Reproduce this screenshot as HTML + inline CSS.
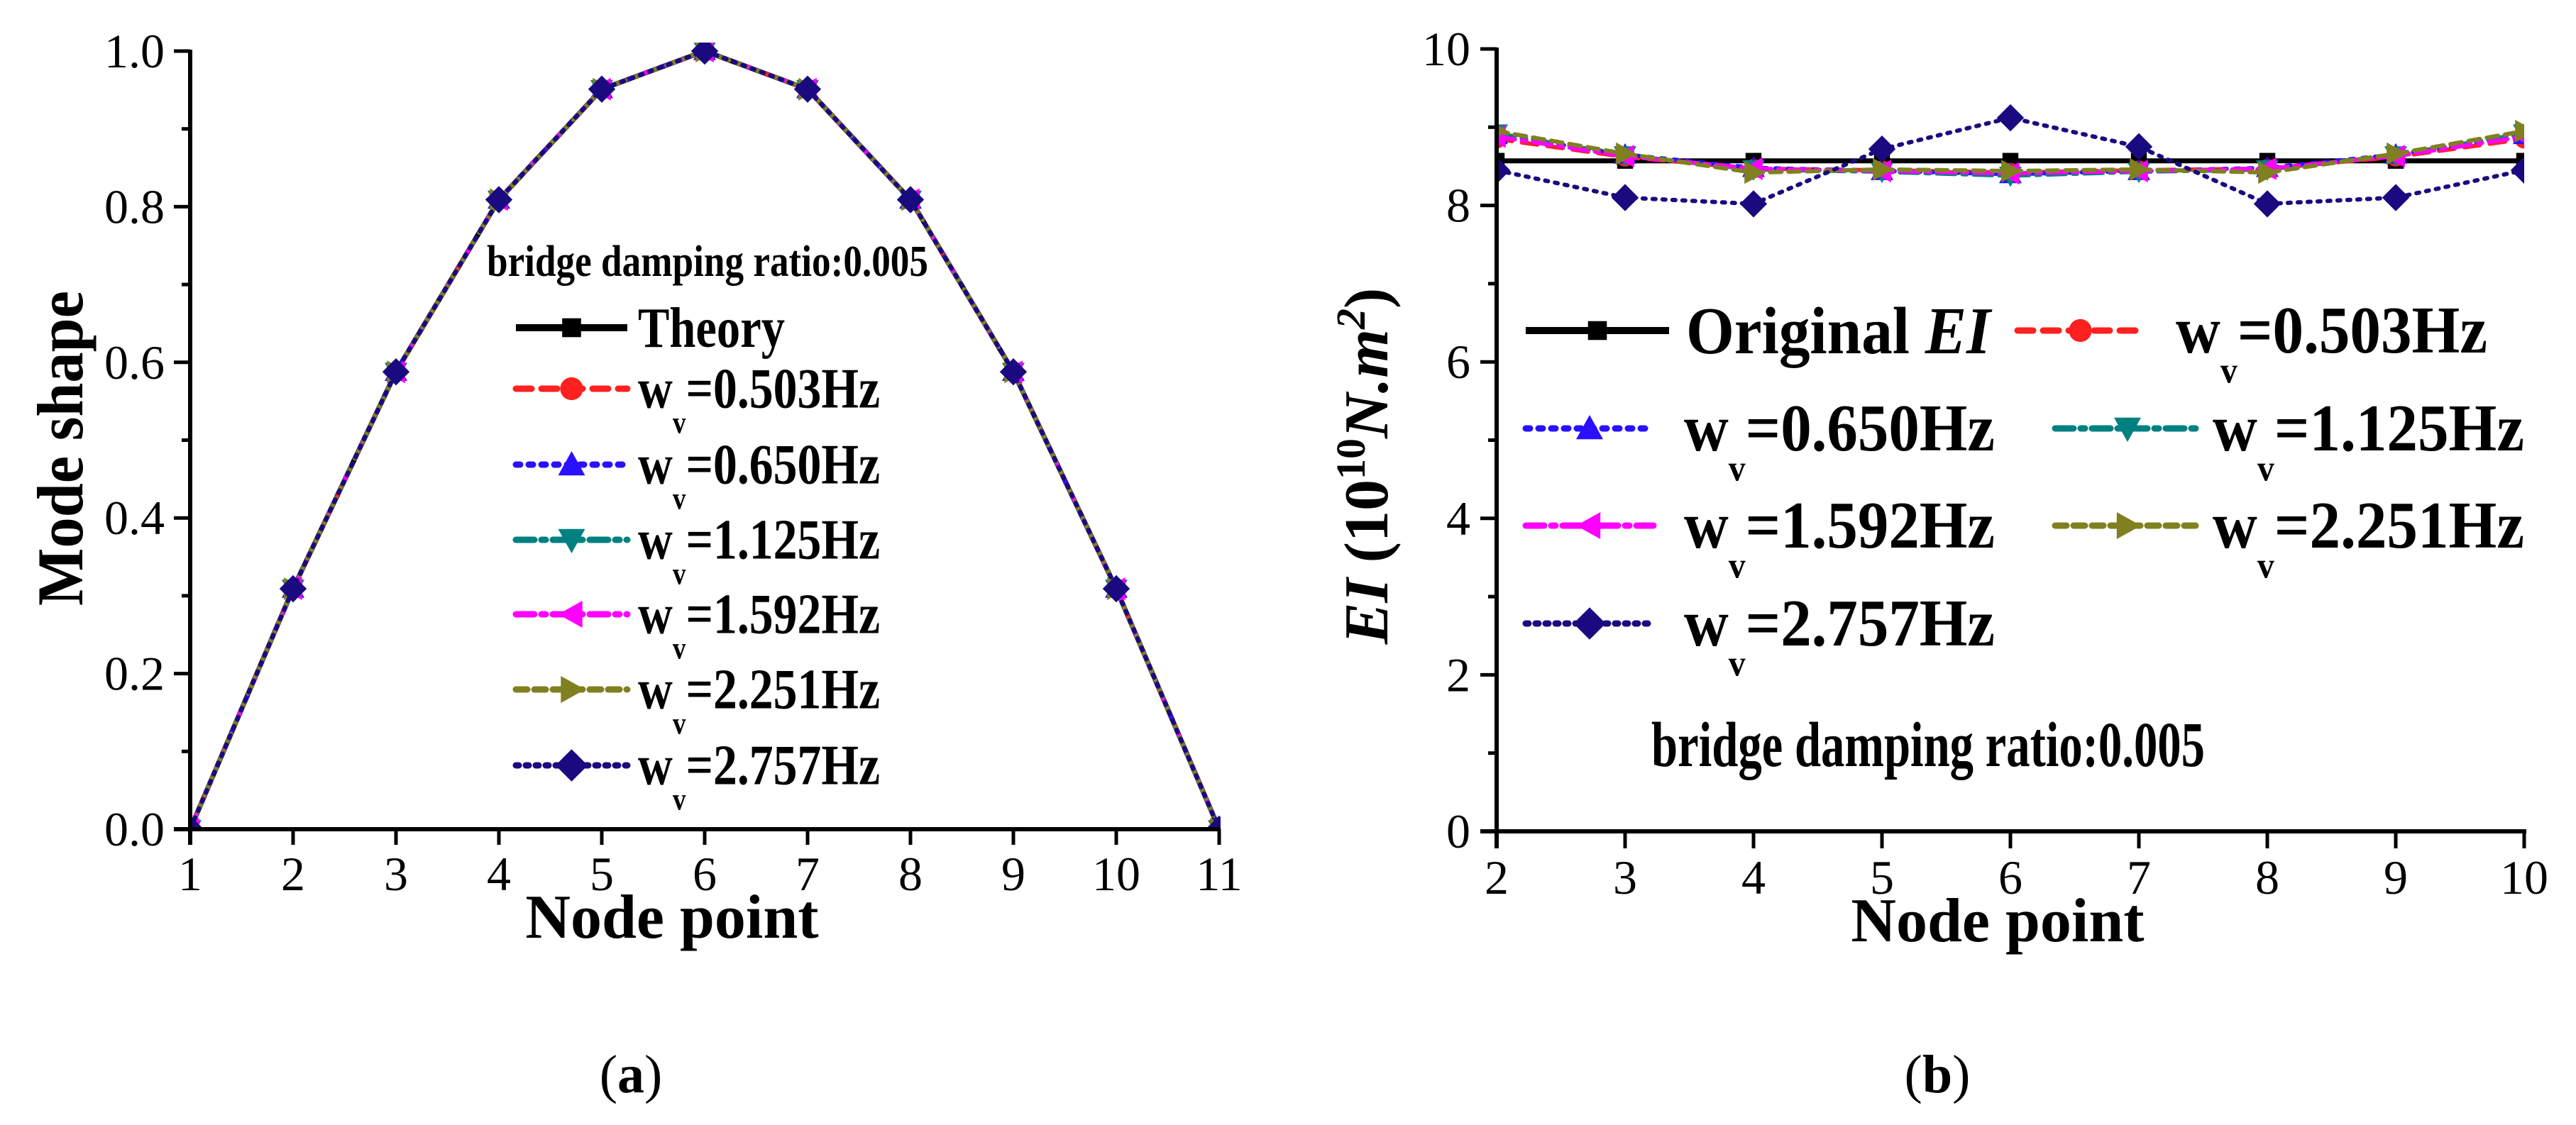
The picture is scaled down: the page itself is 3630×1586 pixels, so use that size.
<!DOCTYPE html>
<html><head><meta charset="utf-8"><style>
html,body{margin:0;padding:0;background:#fff;}
svg{display:block;font-family:"Liberation Serif",serif;}
</style></head><body>
<svg id="s" width="3630" height="1586" viewBox="0 0 3630 1586" xmlns="http://www.w3.org/2000/svg">
<defs>
<clipPath id="ca"><rect x="268" y="60" width="1452" height="1111"/></clipPath>
<clipPath id="cb"><rect x="2109" y="60" width="1448" height="1114"/></clipPath>
</defs>
<g id="g"></g>
</svg>
<script>
var g=document.getElementById('g'),h='';
function A(s){h+=s;}
var ser=[
 {c:'#000',d:'',m:'sq',w:7},
 {c:'#ff2020',d:'22 14',m:'ci',w:6},
 {c:'#2a10ff',d:'6 12',m:'tu',w:6},
 {c:'#008080',d:'26 10 6 10',m:'td',w:6},
 {c:'#ff00ff',d:'26 10 6 10',m:'tl',w:6},
 {c:'#808020',d:'16 10',m:'tr',w:6},
 {c:'#1a0a80',d:'4 10',m:'di',w:6}
];
function mk(t,x,y,c,s){s=s||16;
 if(t=='sq')return '<rect x="'+(x-s*0.7)+'" y="'+(y-s*0.7)+'" width="'+(s*1.4)+'" height="'+(s*1.4)+'" fill="'+c+'"/>';
 if(t=='ci')return '<circle cx="'+x+'" cy="'+y+'" r="'+s*0.85+'" fill="'+c+'"/>';
 if(t=='tu')return '<polygon points="'+x+','+(y-s)+' '+(x+s)+','+(y+s*0.8)+' '+(x-s)+','+(y+s*0.8)+'" fill="'+c+'"/>';
 if(t=='td')return '<polygon points="'+x+','+(y+s)+' '+(x+s)+','+(y-s*0.8)+' '+(x-s)+','+(y-s*0.8)+'" fill="'+c+'"/>';
 if(t=='tl')return '<polygon points="'+(x-s)+','+y+' '+(x+s*0.8)+','+(y-s)+' '+(x+s*0.8)+','+(y+s)+'" fill="'+c+'"/>';
 if(t=='tr')return '<polygon points="'+(x+s)+','+y+' '+(x-s*0.8)+','+(y-s)+' '+(x-s*0.8)+','+(y+s)+'" fill="'+c+'"/>';
 if(t=='di')return '<polygon points="'+x+','+(y-s*1.2)+' '+(x+s*1.2)+','+y+' '+x+','+(y+s*1.2)+' '+(x-s*1.2)+','+y+'" fill="'+c+'"/>';
}
function series(pts,s,clip){
 var p=pts.map(function(q){return q[0]+','+q[1]}).join(' ');
 A('<g clip-path="url(#'+clip+')"><polyline points="'+p+'" fill="none" stroke="'+s.c+'" stroke-width="'+s.w+'" '+(s.d?'stroke-dasharray="'+s.d+'" stroke-linecap="round"':'')+'/>');
 pts.forEach(function(q){A(mk(s.m,q[0],q[1],s.c,16));});
 A('</g>');
}
function legItem(x1,x2,y,s){
 A('<line x1="'+x1+'" y1="'+y+'" x2="'+x2+'" y2="'+y+'" stroke="'+s.c+'" stroke-width="'+(s.w+3)+'" '+(s.d?'stroke-dasharray="'+s.d+'" stroke-linecap="round"':'')+'/>');
 A(mk(s.m,(x1+x2)/2,y,s.c,19));
}
function wv(x,y,f,val,tl){
 A('<text x="'+x+'" y="'+(y+f*0.33)+'" font-size="'+f+'" font-weight="bold"'+(tl?' textLength="'+tl+'" lengthAdjust="spacingAndGlyphs"':'')+'>w<tspan font-size="'+(f*0.55)+'" dy="'+(f*0.45)+'">v</tspan><tspan dy="'+(-f*0.45)+'">='+val+'Hz</tspan></text>');
}
var freqs=['0.503','0.650','1.125','1.592','2.251','2.757'];
// ===== Panel (a)
var ax0=268,ay0=1169,ayt=72,dx=145;
function Xa(n){return ax0+(n-1)*dx;} function Ya(v){return ay0-(ay0-ayt)*v;}
for(var i=1;i<=11;i++){A('<line x1="'+Xa(i)+'" y1="'+ay0+'" x2="'+Xa(i)+'" y2="'+(ay0+22)+'" stroke="#000" stroke-width="5"/>');
 A('<text x="'+Xa(i)+'" y="1255" font-size="68" text-anchor="middle">'+i+'</text>');}
for(var k=0;k<=10;k++){var y=Ya(k/10),L=(k%2==0)?23:12;
 A('<line x1="'+(ax0-L)+'" y1="'+y+'" x2="'+ax0+'" y2="'+y+'" stroke="#000" stroke-width="5"/>');
 if(k%2==0)A('<text x="232" y="'+(y+23)+'" font-size="68" text-anchor="end">'+(k/10).toFixed(1)+'</text>');}
var pa=[];for(i=1;i<=11;i++)pa.push([Xa(i),Ya(Math.sin(Math.PI*(i-1)/10))]);
for(var j=0;j<7;j++)series(pa,ser[j],'ca');
A('<line x1="'+ax0+'" y1="'+(ayt-2)+'" x2="'+ax0+'" y2="'+(ay0+22)+'" stroke="#000" stroke-width="6"/>');
A('<line x1="'+(ax0-23)+'" y1="'+ay0+'" x2="1720" y2="'+ay0+'" stroke="#000" stroke-width="6"/>');
A('<text x="686" y="389" font-size="62" font-weight="bold" textLength="622" lengthAdjust="spacingAndGlyphs">bridge damping ratio:0.005</text>');
var ly=[462,548,655,761,866,972,1079];
legItem(727,884,ly[0],ser[0]);A('<text x="899" y="'+(ly[0]+27)+'" font-size="80" font-weight="bold" textLength="207" lengthAdjust="spacingAndGlyphs">Theory</text>');
for(j=1;j<7;j++){legItem(727,884,ly[j],ser[j]);wv(899,ly[j],80,freqs[j-1],341);}
A('<text x="947" y="1322" font-size="88" font-weight="bold" text-anchor="middle">Node point</text>');
A('<text transform="translate(116,632) rotate(-90)" font-size="92" font-weight="bold" text-anchor="middle" textLength="444" lengthAdjust="spacingAndGlyphs">Mode shape</text>');
A('<text x="889" y="1540" font-size="76" text-anchor="middle">(<tspan font-weight="bold">a</tspan>)</text>');
// ===== Panel (b)
var bx0=2109,by0=1172,byt=69,bdx=181;
function Xb(n){return bx0+(n-2)*bdx;} function Yb(v){return by0-(by0-byt)*v/10;}
for(i=2;i<=10;i++){A('<line x1="'+Xb(i)+'" y1="'+by0+'" x2="'+Xb(i)+'" y2="'+(by0+24)+'" stroke="#000" stroke-width="5"/>');
 A('<text x="'+Xb(i)+'" y="1260" font-size="68" text-anchor="middle">'+i+'</text>');}
for(k=0;k<=10;k++){y=Yb(k);L=(k%2==0)?23:12;
 A('<line x1="'+(bx0-L)+'" y1="'+y+'" x2="'+bx0+'" y2="'+y+'" stroke="#000" stroke-width="5"/>');
 if(k%2==0)A('<text x="2072" y="'+(y+23)+'" font-size="68" text-anchor="end">'+k+'</text>');}
var orig=[8.57,8.57,8.57,8.57,8.57,8.57,8.57,8.57,8.57];
var mid=[
 [8.85,8.62,8.47,8.45,8.42,8.45,8.47,8.62,8.85],
 [8.9,8.65,8.48,8.44,8.4,8.44,8.48,8.65,8.9],
 [8.92,8.64,8.46,8.43,8.38,8.43,8.46,8.64,8.92],
 [8.88,8.63,8.47,8.44,8.41,8.44,8.47,8.63,8.88],
 [8.95,8.66,8.42,8.46,8.44,8.46,8.42,8.66,8.95]];
var last=[8.45,8.1,8.02,8.72,9.12,8.75,8.02,8.1,8.45];
function P(a){return a.map(function(v,ii){return [Xb(ii+2),Yb(v)];});}
series(P(orig),ser[0],'cb');
for(j=0;j<5;j++)series(P(mid[j]),ser[j+1],'cb');
series(P(last),ser[6],'cb');
A('<line x1="'+bx0+'" y1="'+(byt-2)+'" x2="'+bx0+'" y2="'+(by0+24)+'" stroke="#000" stroke-width="6"/>');
A('<line x1="'+(bx0-23)+'" y1="'+by0+'" x2="3560" y2="'+by0+'" stroke="#000" stroke-width="6"/>');
legItem(2150,2352,466,ser[0]);
A('<text x="2376" y="'+(466+32)+'" font-size="94" font-weight="bold" textLength="429" lengthAdjust="spacingAndGlyphs">Original <tspan font-style="italic">EI</tspan></text>');
legItem(2843,3020,466,ser[1]);wv(3066,466,94,freqs[0],439);
legItem(2150,2330,604,ser[2]);wv(2373,604,94,freqs[1],438);
legItem(2896,3100,604,ser[3]);wv(3118,604,94,freqs[2],439);
legItem(2150,2330,741,ser[4]);wv(2373,741,94,freqs[3],438);
legItem(2896,3100,741,ser[5]);wv(3118,741,94,freqs[4],439);
legItem(2150,2330,879,ser[6]);wv(2373,879,94,freqs[5],438);
A('<text x="2327" y="1080" font-size="90" font-weight="bold" textLength="780" lengthAdjust="spacingAndGlyphs">bridge damping ratio:0.005</text>');
A('<text x="2815" y="1327" font-size="88" font-weight="bold" text-anchor="middle">Node point</text>');
A('<text transform="translate(1955,657) rotate(-90)" font-size="88" font-weight="bold" text-anchor="middle"><tspan font-style="italic">EI</tspan> (10<tspan font-size="58" dy="-32">10</tspan><tspan dy="32" font-style="italic">N.m</tspan><tspan font-size="58" dy="-32" font-style="italic">2</tspan><tspan dy="32">)</tspan></text>');
A('<text x="2730" y="1540" font-size="76" text-anchor="middle">(<tspan font-weight="bold">b</tspan>)</text>');
g.innerHTML=h;
</script>
</body></html>
